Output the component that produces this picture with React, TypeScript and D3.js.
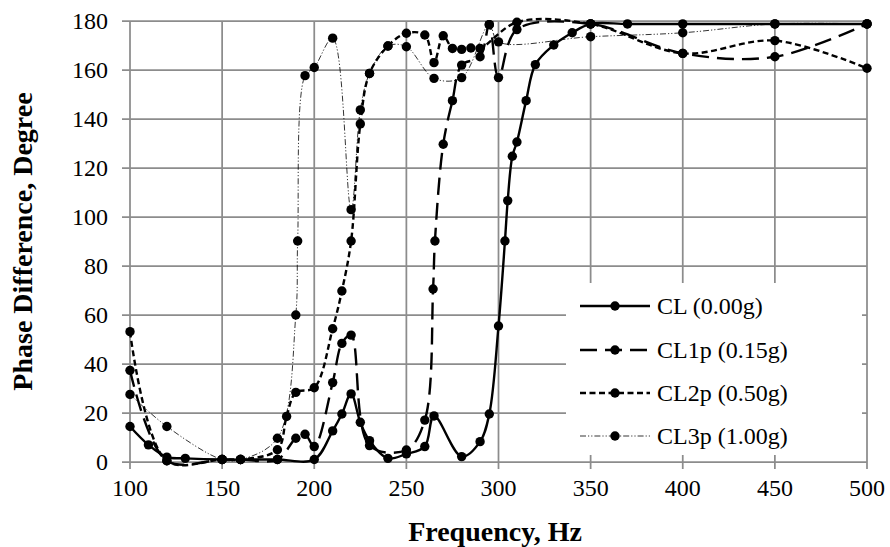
import React from "react";
import * as d3 from "d3";

// phase difference vs. frequency, one pair of arrays per case
const clFreq = [100, 110, 120, 130, 150, 160, 180, 200, 210, 215, 220, 225, 230, 240, 250, 260, 265, 280, 290, 295, 300, 303.5, 305, 307.5, 310, 315, 320, 330, 340, 350, 370, 400, 450, 500];
const clPhase = [14.5, 7, 2, 1.5, 1, 1, 1, 1, 12.7, 19.6, 27.8, 16.2, 8.7, 1.5, 3.3, 6.3, 18.8, 2.2, 8.3, 19.6, 55.5, 90.2, 106.7, 124.8, 130.6, 147.5, 162.2, 170.2, 175.2, 178.8, 178.8, 178.8, 178.8, 178.8];

const cl1pFreq = [100, 120, 150, 160, 180, 190, 195, 200, 210, 215, 220, 230, 250, 260, 264.5, 265.5, 270, 275, 280, 290, 295, 300, 310, 350, 400, 450, 500];
const cl1pPhase = [37.4, 0.5, 1, 1, 1, 9.7, 11.3, 6.3, 32.4, 48.4, 51.8, 6.7, 4.9, 17.1, 70.6, 90.2, 129.7, 147.5, 162, 165.4, 178.5, 156.9, 176.5, 178.8, 166.8, 165.4, 178.8];

const cl2pFreq = [100, 120, 150, 160, 180, 185, 190, 200, 210, 215, 220, 225, 230, 240, 250, 260, 265, 270, 275, 280, 285, 290, 310, 350, 400, 450, 500];
const cl2pPhase = [53.2, 0.5, 1, 1, 5, 18.6, 28.4, 30.3, 54.4, 69.8, 90.2, 138, 158.6, 169.8, 175, 174.3, 163, 174, 168.8, 168.4, 169, 168.8, 179.5, 178.8, 166.8, 172, 160.7];

const cl3pFreq = [100, 120, 150, 160, 180, 190, 191, 195, 200, 210, 220, 225, 230, 240, 250, 265, 280, 295, 300, 350, 400, 450, 500];
const cl3pPhase = [27.6, 14.5, 1, 1, 9.7, 60, 90.2, 157.7, 161, 173, 103, 143.7, 158.6, 169.8, 169.5, 156.6, 156.9, 178.5, 171.5, 173.6, 175.2, 178.8, 178.8];

const seriesNames = ["CL (0.00g)", "CL1p (0.15g)", "CL2p (0.50g)", "CL3p (1.00g)"];
const xTicks = [100, 150, 200, 250, 300, 350, 400, 450, 500];
const yTicks = [0, 20, 40, 60, 80, 100, 120, 140, 160, 180];

const W = 890, H = 547;
const left = 130, right = 867, top = 21, bottom = 462;
const font = "'Liberation Serif', 'Times New Roman', serif";

const styles = [
  { width: 2.4, dash: "none" },
  { width: 2.4, dash: "17,8" },
  { width: 2.4, dash: "6,3.5" },
  { width: 0.8, dash: "6,2,1.2,2,1.2,2" },
];

export default function App() {
  const x = d3.scaleLinear().domain([100, 500]).range([left, right]);
  const y = d3.scaleLinear().domain([0, 180]).range([bottom, top]);

  const series = [
    [clFreq, clPhase],
    [cl1pFreq, cl1pPhase],
    [cl2pFreq, cl2pPhase],
    [cl3pFreq, cl3pPhase],
  ].map(([f, p]) => f.map((v, i) => [v, p[i]] as [number, number]));

  const line = d3
    .line<[number, number]>()
    .x((d) => x(d[0]))
    .y((d) => y(d[1]))
    .curve(d3.curveCatmullRom.alpha(0.5));

  const grid = "#8c8c8c";
  const legendY = [306, 350, 393, 436];

  return (
    <svg width={W} height={H} style={{ position: "absolute", left: 0, top: 0, background: "#fff" }}>
      {/* grid */}
      {xTicks.map((t) => (
        <line key={"gx" + t} x1={x(t)} x2={x(t)} y1={top} y2={bottom + 7} stroke={grid} strokeWidth={1.75} />
      ))}
      {yTicks.map((t) => (
        <line key={"gy" + t} x1={left - 8} x2={right} y1={y(t)} y2={y(t)} stroke={grid} strokeWidth={1.75} />
      ))}

      {/* tick labels */}
      {yTicks.map((t) => (
        <text key={"ly" + t} x={left - 22} y={y(t) + 8} textAnchor="end" fontFamily={font} fontSize={24}>
          {t}
        </text>
      ))}
      {xTicks.map((t) => (
        <text key={"lx" + t} x={x(t)} y={bottom + 34} textAnchor="middle" fontFamily={font} fontSize={24}>
          {t}
        </text>
      ))}

      {/* series */}
      {series.map((s, i) => (
        <g key={"s" + i}>
          <path d={line(s) ?? ""} fill="none" stroke="#000" strokeWidth={styles[i].width} strokeDasharray={styles[i].dash} />
          {s.map((d, j) => (
            <circle key={j} cx={x(d[0])} cy={y(d[1])} r={4.7} fill="#000" />
          ))}
        </g>
      ))}

      {/* legend */}
      <rect x={566} y={283} width={296} height={172} fill="#fff" />
      {seriesNames.map((name, i) => (
        <g key={"lg" + i}>
          <line x1={580} x2={650} y1={legendY[i]} y2={legendY[i]} stroke="#000" strokeWidth={styles[i].width} strokeDasharray={styles[i].dash} />
          <circle cx={615} cy={legendY[i]} r={4.7} fill="#000" />
          <text x={657} y={legendY[i] + 8} fontFamily={font} fontSize={24}>
            {name}
          </text>
        </g>
      ))}

      {/* axis titles */}
      <text x={495} y={541} textAnchor="middle" fontFamily={font} fontSize={28} fontWeight="bold">
        Frequency, Hz
      </text>
      <text
        transform={`translate(32,${(top + bottom) / 2}) rotate(-90)`}
        textAnchor="middle"
        fontFamily={font}
        fontSize={28}
        fontWeight="bold"
      >
        Phase Difference, Degree
      </text>
    </svg>
  );
}
